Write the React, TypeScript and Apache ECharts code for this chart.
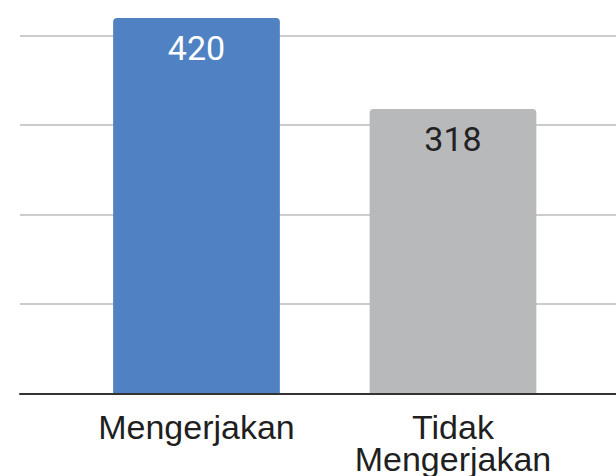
import React, { useEffect, useRef } from "react";
import * as echarts from "echarts";

const categories = ["Mengerjakan", "Tidak Mengerjakan"];
const values = [420, 318];
const barColors = ["#5081c2", "#b8b9bb"];
const valueLabelColors = ["#ffffff", "#222222"];
const yMin = 0;
const yMax = 440;
const yInterval = 100;

export default function App() {
  const ref = useRef<HTMLDivElement>(null);
  useEffect(() => {
    if (!ref.current) return;
    const chart = echarts.init(ref.current, undefined, { renderer: "svg" });
    const top = 0;
    const bottom = 82.5;
    chart.setOption({
      animation: false,
      backgroundColor: "#ffffff",
      grid: [
        { left: 20, right: 0, top, bottom },
        { left: 68.25, right: 34.75, top, bottom },
      ],
      xAxis: [
        {
          type: "value",
          gridIndex: 0,
          min: 0,
          max: 1,
          z: 5,
          axisLine: { show: true, lineStyle: { color: "#333333", width: 2 } },
          axisTick: { show: false },
          axisLabel: { show: false },
          splitLine: { show: false },
        },
        {
          type: "category",
          gridIndex: 1,
          data: categories,
          axisLine: { show: false },
          axisTick: { show: false },
          axisLabel: {
            fontFamily: "Liberation Sans, Arial, sans-serif",
            fontSize: 34,
            lineHeight: 32,
            color: "#1f1f1f",
            margin: 17,
            interval: 0,
            formatter: (v: string) => v.replace(" ", "\n"),
          },
        },
      ],
      yAxis: [
        {
          type: "value",
          gridIndex: 0,
          min: yMin,
          max: yMax,
          interval: yInterval,
          axisLine: { show: false },
          axisTick: { show: false },
          axisLabel: { show: false },
          splitLine: {
            show: true,
            showMaxLine: false,
            lineStyle: { color: "#cccccc", width: 2 },
          },
        },
        {
          type: "value",
          gridIndex: 1,
          min: yMin,
          max: yMax,
          interval: yInterval,
          show: false,
        },
      ],
      series: [
        {
          type: "bar",
          xAxisIndex: 1,
          yAxisIndex: 1,
          barWidth: "65%",
          data: values.map((v, i) => ({
            value: v,
            itemStyle: { color: barColors[i], borderRadius: [4, 4, 0, 0] },
            label: { color: valueLabelColors[i] },
          })),
          label: {
            show: true,
            position: "insideTop",
            distance: 13,
            fontFamily: "Roboto, sans-serif",
            fontSize: 34,
          },
        },
      ],
    });
    return () => chart.dispose();
  }, []);
  return (
    <div
      ref={ref}
      style={{ position: "fixed", left: 0, top: 0, width: 616, height: 476 }}
    />
  );
}
